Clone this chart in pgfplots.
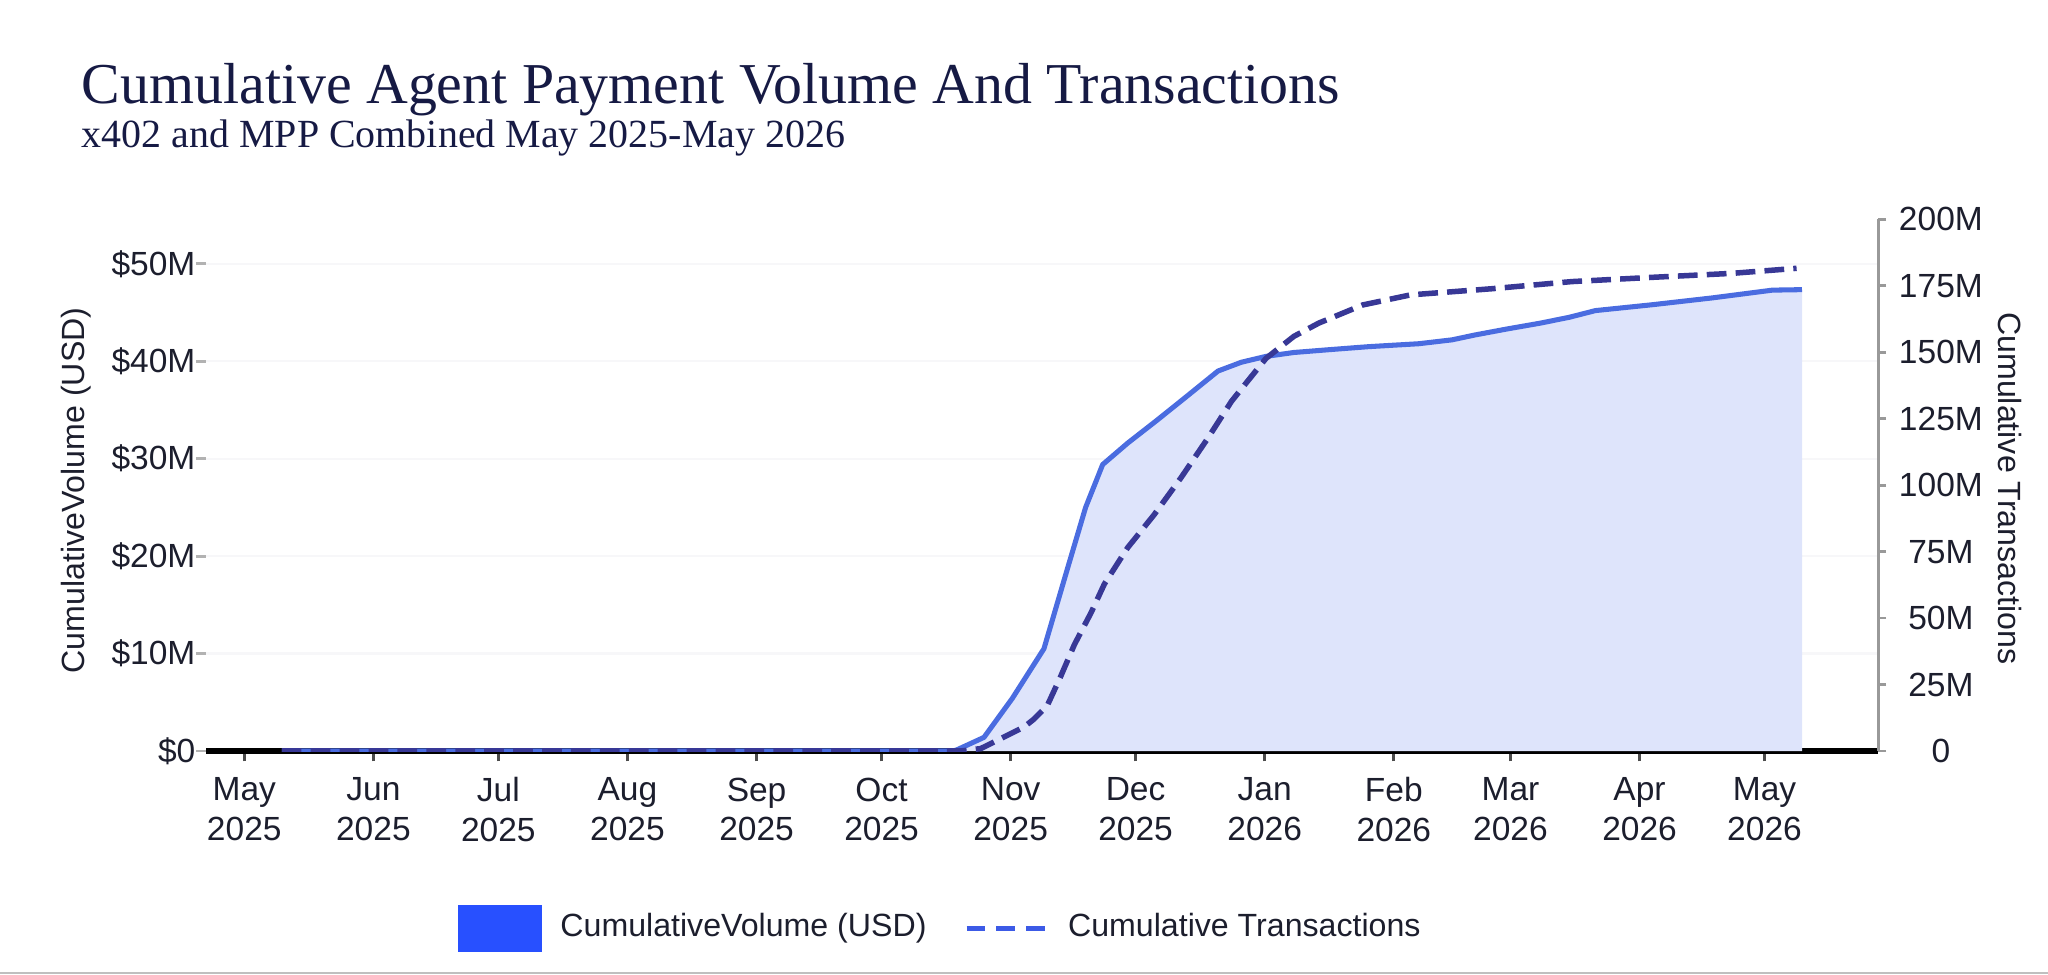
\documentclass[border=0pt]{standalone}
\usepackage{fontspec}
\setmainfont{Liberation Sans}
\newfontfamily\titlefont{Liberation Serif}
\usepackage{pgfplots}
\pgfplotsset{compat=1.18}
\definecolor{titlenavy}{RGB}{22,26,68}
\definecolor{textdark}{RGB}{28,30,45}
\definecolor{lineblue}{RGB}{74,108,224}
\definecolor{fillblue}{RGB}{222,228,251}
\definecolor{dashnavy}{RGB}{56,56,150}
\definecolor{legendblue}{RGB}{40,80,255}
\definecolor{legenddash}{RGB}{60,90,230}
\definecolor{gridgray}{RGB}{247,247,249}
\newcommand{\tickfont}{\fontsize{7.3}{8.6}\selectfont}
\newcommand{\labfont}{\fontsize{7}{8}\selectfont}
\begin{document}
\begin{tikzpicture}
\path[use as bounding box] (0,0) rectangle (15.68,7.46);
\fill[black!25] (0,0) rectangle (15.68,0.015);
\node[anchor=base west, inner sep=0pt, text=titlenavy, font=\titlefont\fontsize{12.6}{14}\selectfont] at (0.62,6.67) {Cumulative Agent Payment Volume And Transactions};
\node[anchor=base west, inner sep=0pt, text=titlenavy, font=\titlefont\fontsize{8.7}{11}\selectfont] at (0.62,6.33) {x402 and MPP Combined May 2025-May 2026};

\begin{axis}[
  at={(1.58cm,1.71cm)}, anchor=south west,
  scale only axis, width=12.8cm, height=4.07cm,
  xmin=-9.1, xmax=392.3, ymin=0, ymax=54.56,
  axis x line*=bottom, axis y line*=left,
  x axis line style={black, line width=1.1pt, -},
  y axis line style={draw=none},
  xtick={0,31,61,92,123,153,184,214,245,276,304,335,365},
  xticklabels={{May\\2025},{Jun\\2025},{Jul\\2025},{Aug\\2025},{Sep\\2025},{Oct\\2025},{Nov\\2025},{Dec\\2025},{Jan\\2026},{Feb\\2026},{Mar\\2026},{Apr\\2026},{May\\2026}},
  xticklabel style={align=center, font=\tickfont, text=textdark},
  ytick={0,10,20,30,40,50},
  yticklabels={\$0,\$10M,\$20M,\$30M,\$40M,\$50M},
  yticklabel style={font=\tickfont, text=textdark, xshift=0.12cm},
  tick align=outside,
  x tick style={draw=black!70, line width=0.6pt},
  y tick style={draw=black!30, line width=0.6pt},
  major tick length=0.08cm,
  ymajorgrids, grid style={draw=gridgray, line width=0.5pt},
  ylabel={CumulativeVolume (USD)},
  ylabel style={at={(axis description cs:-0.078,0.49)}, anchor=center, font=\labfont, text=textdark},
  /pgf/number format/assume math mode=true,
]
\addplot[fill=fillblue, draw=none, forget plot] coordinates {
(9,0) (30,0) (60,0) (90,0) (120,0) (150,0) (170,0) (171,0.1) (177.6,1.4) (184.4,5.4)
(192,10.5) (197.7,18.8) (202,25) (206.1,29.4) (212.1,31.6) (219,33.9) (226,36.3)
(233.8,39.0) (239.4,39.9) (245.3,40.5) (252,40.9) (260.8,41.2) (270,41.5) (282,41.8)
(290,42.2) (295.5,42.7) (303,43.3) (311,43.9) (318,44.5) (324.4,45.2) (338,45.8)
(352.4,46.5) (366.9,47.3) (374,47.35)
} \closedcycle;
\addplot[draw=lineblue, line width=1.1pt, line join=round] coordinates {
(9,0) (30,0) (60,0) (90,0) (120,0) (150,0) (170,0) (171,0.1) (177.6,1.4) (184.4,5.4)
(192,10.5) (197.7,18.8) (202,25) (206.1,29.4) (212.1,31.6) (219,33.9) (226,36.3)
(233.8,39.0) (239.4,39.9) (245.3,40.5) (252,40.9) (260.8,41.2) (270,41.5) (282,41.8)
(290,42.2) (295.5,42.7) (303,43.3) (311,43.9) (318,44.5) (324.4,45.2) (338,45.8)
(352.4,46.5) (366.9,47.3) (374,47.35)
};
\end{axis}

\begin{axis}[
  at={(1.58cm,1.71cm)}, anchor=south west,
  scale only axis, width=12.8cm, height=4.07cm,
  xmin=-9.1, xmax=392.3, ymin=0, ymax=200,
  axis x line=none, axis y line*=right,
  y axis line style={draw=black!40, line width=0.6pt, -},
  ytick={0,25,50,75,100,125,150,175,200},
  yticklabels={0,25M,50M,75M,100M,125M,150M,175M,200M},
  yticklabel style={font=\tickfont, text=textdark, anchor=center, xshift=0.42cm},
  tick align=outside, major tick length=0.06cm,
  y tick style={draw=black!40, line width=0.6pt},
  ylabel={Cumulative Transactions},
  ylabel style={at={(axis description cs:1.079,0.494)}, anchor=center, rotate=180, font=\labfont, text=textdark},
  /pgf/number format/assume math mode=true,
  legend style={at={(axis description cs:0.15,-0.334)}, anchor=west, draw=none, fill=none,
    inner sep=0pt, column sep=0pt, font=\labfont, text=textdark, nodes={inner sep=0pt}},
  legend columns=2, legend cell align=left,
]
\addplot[draw=dashnavy, line width=1.2pt, dash pattern=on 4.3pt off 2pt, forget plot] coordinates {
(9,0) (30,0) (60,0) (90,0) (120,0) (150,0) (172,0) (176.8,0.9) (179.2,2.75) (183.2,5.9)
(187.2,9) (189.6,12) (192.8,17.1) (196,28) (199.3,40) (203.3,52) (206.5,62.8)
(212.1,76.5) (218.5,89) (224.9,102.8) (231.4,117.8) (237,131.5) (241.8,140.9)
(245.3,147.7) (252,156) (258,161) (268.5,167.8) (280,171.6) (299.4,173.9)
(318.7,176.6) (338,178.2) (357.2,179.7) (372.7,181.6)
};
\addlegendimage{legend image code/.code={\fill[legendblue] (0cm,-0.175cm) rectangle (0.63cm,0.175cm); \path (0.77cm,0cm);}}
\addlegendentry{CumulativeVolume (USD)}
\addlegendimage{legend image code/.code={\path (-0.30cm,0cm); \draw[legenddash, line width=1.2pt, dash pattern=on 4pt off 2.5pt] (0cm,0cm) -- (0.62cm,0cm); \path (0.77cm,0cm);}}
\addlegendentry{Cumulative Transactions}
\end{axis}
\end{tikzpicture}
\end{document}
